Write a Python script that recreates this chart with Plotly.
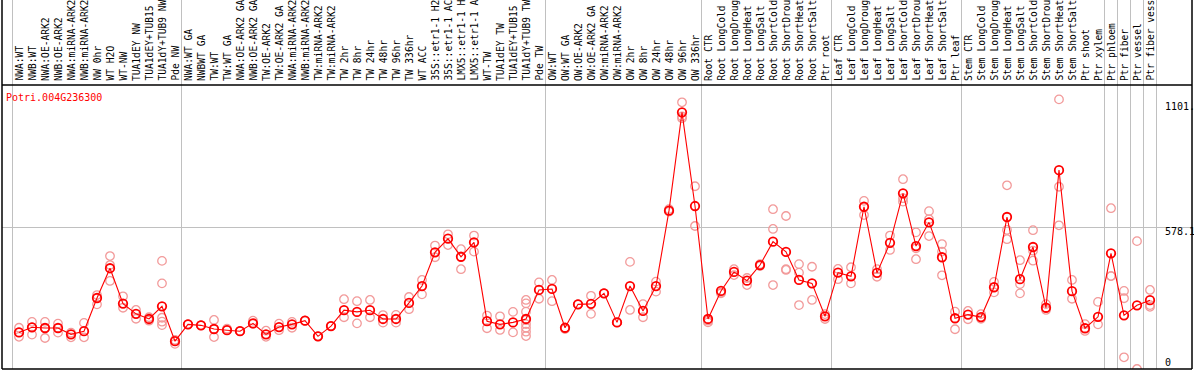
import plotly.graph_objects as go

gene = "Potri.004G236300"

categories = [
    "NWA:WT", "NWB:WT", "NWA:OE-ARK2", "NWB:OE-ARK2", "NWA:miRNA-ARK2", "NWB:miRNA-ARK2",
    "NW 0hr", "WT H2O", "WT-NW", "TUA1dEY NW", "TUA1dEY+TUB15", "TUA1dY+TUB9 NW", "Pde NW",
    "NWA:WT GA", "NWBWT GA", "TW:WT", "TW:WT GA", "NWA:OE-ARK2 GA", "NWB:OE-ARK2 GA",
    "TW:OE-ARK2", "TW:OE-ARK2 GA", "NWA:miRNA-ARK2", "NWB:miRNA-ARK2", "TW:miRNA-ARK2",
    "TW:miRNA-ARK2", "TW 2hr", "TW 8hr", "TW 24hr", "TW 48hr", "TW 96hr", "TW 336hr",
    "WT ACC", "35S::etr1-1 H2", "35S::etr1-1 AC", "LMX5::etr1-1 H", "LMX5::etr1-1 A",
    "WT-TW", "TUA1dEY TW", "TUA1dEY+TUB15", "TUA1dY+TUB9 TW", "Pde TW",
    "OW:WT", "OW:WT GA", "OW:OE-ARK2", "OW:OE-ARK2 GA", "OW:miRNA-ARK2", "OW:miRNA-ARK2",
    "OW 2hr", "OW 8hr", "OW 24hr", "OW 48hr", "OW 96hr", "OW 336hr",
    "Root CTR", "Root LongCold", "Root LongDroug", "Root LongHeat", "Root LongSalt",
    "Root ShortCold", "Root ShortDrou", "Root ShortHeat", "Root ShortSalt", "Ptr root",
    "Leaf CTR", "Leaf LongCold", "Leaf LongDroug", "Leaf LongHeat", "Leaf LongSalt",
    "Leaf ShortCold", "Leaf ShortDrou", "Leaf ShortHeat", "Leaf ShortSalt", "Ptr leaf",
    "Stem CTR", "Stem LongCold", "Stem LongDroug", "Stem LongHeat", "Stem LongSalt",
    "Stem ShortCold", "Stem ShortDrou", "Stem ShortHeat", "Stem ShortSalt", "Ptr shoot",
    "Ptr xylem", "Ptr phloem", "Ptr fiber", "Ptr vessel", "Ptr fiber vess",
]

group_sizes = [13, 28, 12, 10, 10, 11, 1, 1, 1, 1]

means = [
    150, 171, 168, 168, 142, 155, 291, 413, 268, 226, 205, 257, 114,
    183, 179, 164, 159, 155, 187, 142, 172, 183, 198, 134, 176, 241, 234, 241, 205, 205,
    271, 340, 478, 534, 460, 519, 196, 183, 191, 205, 324,
    328, 169, 265, 267, 310, 191, 340, 238, 340, 649, 1052, 668,
    205, 320, 398, 362, 426, 522, 480, 365, 351, 216,
    395, 380, 665, 394, 517, 720, 504, 601, 458, 208,
    223, 213, 335, 623, 368, 500, 251, 815, 319, 167,
    214, 474, 220, 261, 282,
]

replicates = [
    [169, 132, 150], [193, 141, 171], [193, 127, 168], [186, 149], [149, 130], [189, 130],
    [303, 265], [463, 426, 361], [298, 251], [242, 206], [212, 198],
    [443, 351, 210, 194, 180], [119, 103],
    [183, 183], [179, 179], [201, 131], [159, 165], [155, 155], [198, 185], [157, 132],
    [186, 159], [193, 169], [198, 198], [134, 134], [176, 176], [286, 212], [278, 187],
    [283, 212], [221, 190], [222, 190], [295, 245], [365, 306], [506, 458], [552, 508],
    [491, 409], [547, 481], [219, 167], [216, 160], [234, 150],
    [283, 269, 235, 201, 184, 169, 153, 135], [355, 288],
    [365, 278], [164, 169], [265, 265], [300, 226], [310, 310], [191, 191], [439, 242],
    [266, 212], [358, 317], [655, 645], [1093, 1028, 1035], [749, 586],
    [198, 191], [313, 310], [409, 385], [373, 344], [430, 422], [655, 574, 344],
    [627, 409, 406], [430, 395, 262], [419, 283], [225, 205],
    [410, 368], [417, 351], [689, 631], [409, 378], [547, 488], [778, 700, 686],
    [560, 495, 450], [647, 614, 545], [512, 481, 384], [235, 163],
    [238, 204], [225, 206], [357, 314], [753, 570, 532], [446, 348, 310], [569, 485, 444],
    [266, 242], [1105, 747, 589], [365, 288], [184, 156],
    [275, 183], [659, 381, 381], [320, 290, 48], [524, 0], [324, 262, 255],
]

y_ticks = [0, 578.1, 1101.3]
y_tick_labels = ["0", "578.1", "1101."]

# ---- layout constants (pixels) ----
W, H = 1194, 370
ML, MR, MT, MB = 2, 2, 85, 1
PLOT_H = H - MT - MB
STEP = 13.0
FIRST_PX = 19
x_lo = (ML - FIRST_PX) / STEP
x_hi = (W - MR - FIRST_PX) / STEP
y_max = 1164
top_paper = 1 + MT / PLOT_H

x_idx = list(range(len(categories)))
rep_x, rep_y = [], []
for i, reps in enumerate(replicates):
    for v in reps:
        rep_x.append(i)
        rep_y.append(v)

fig = go.Figure()
fig.add_trace(go.Scatter(
    x=rep_x, y=rep_y, mode="markers",
    marker=dict(symbol="circle-open", size=8.5, color="#f29a9a", line=dict(width=1.3, color="#f29a9a")),
    hoverinfo="skip", showlegend=False,
))
fig.add_trace(go.Scatter(
    x=x_idx, y=means, mode="lines+markers",
    line=dict(color="#ff0000", width=1.1),
    marker=dict(symbol="circle-open", size=8.5, color="#ff0000", line=dict(width=1.8, color="#ff0000")),
    showlegend=False,
))

shapes = []
# vertical group separators
bounds = [-0.5]
c = 0
for g in group_sizes:
    c += g
    bounds.append(c - 0.5)
for b in bounds:
    shapes.append(dict(type="line", xref="x", yref="paper", x0=b, x1=b, y0=0, y1=top_paper,
                       line=dict(color="#c0c0c0", width=1), layer="below"))
# frame
shapes.append(dict(type="line", xref="paper", yref="paper", x0=0, x1=0, y0=0, y1=top_paper,
                   line=dict(color="black", width=1.5)))
shapes.append(dict(type="line", xref="paper", yref="paper", x0=1, x1=1, y0=0, y1=top_paper,
                   line=dict(color="black", width=1.5)))
shapes.append(dict(type="line", xref="paper", yref="paper", x0=0, x1=1, y0=1, y1=1,
                   line=dict(color="black", width=1.5)))
shapes.append(dict(type="line", xref="paper", yref="paper", x0=0, x1=1, y0=0, y1=0,
                   line=dict(color="black", width=1.5)))

annotations = []
for i, lab in enumerate(categories):
    annotations.append(dict(
        x=i, y=1, xref="x", yref="paper", text=lab, textangle=-90, showarrow=False,
        xanchor="center", yanchor="bottom", yshift=2,
        font=dict(family="DejaVu Sans Mono", size=9.6, color="black"),
    ))
annotations.append(dict(
    x=(4 - ML) / (W - ML - MR), y=(H - MB - 97) / PLOT_H, xref="paper", yref="paper",
    text=gene, showarrow=False, xanchor="left", yanchor="middle",
    font=dict(family="DejaVu Sans Mono", size=10, color="#ff0000"),
))
label_shift = {0: 7, 1: -4, 2: -6}
for k, (tv, tl) in enumerate(zip(y_ticks, y_tick_labels)):
    annotations.append(dict(
        x=(1163 - ML) / (W - ML - MR), y=tv, xref="paper", yref="y", text=tl,
        showarrow=False, xanchor="left", yanchor="middle", yshift=label_shift[k],
        font=dict(family="DejaVu Sans Mono", size=10, color="black"),
    ))

fig.update_layout(
    width=W, height=H, autosize=False,
    margin=dict(l=ML, r=MR, t=MT, b=MB, pad=0),
    paper_bgcolor="white", plot_bgcolor="white",
    xaxis=dict(range=[x_lo, x_hi], showgrid=False, zeroline=False, showticklabels=False,
               ticks="", showline=False, fixedrange=True),
    yaxis=dict(range=[0, y_max], tickvals=[y_ticks[1]], showgrid=True, gridcolor="#c0c0c0",
               gridwidth=1, zeroline=False, showticklabels=False, ticks="", showline=False,
               fixedrange=True),
    shapes=shapes, annotations=annotations,
)

fig.write_html("out.html", config={"displayModeBar": False},
               post_script="document.body.style.margin='0';")
